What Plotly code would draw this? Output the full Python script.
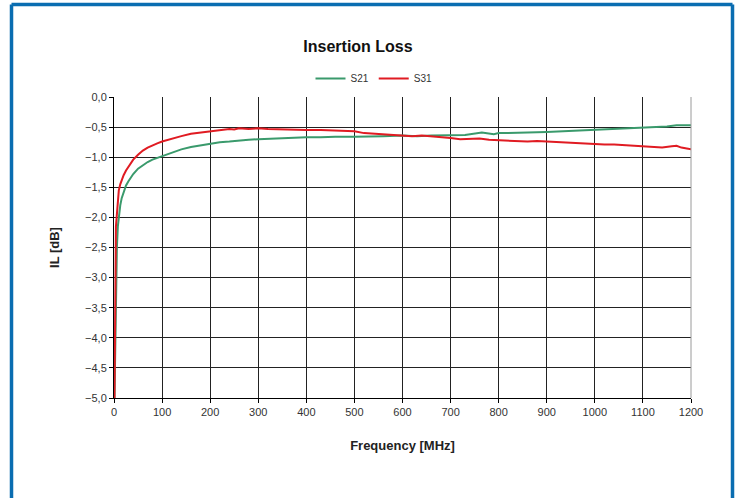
import plotly.graph_objects as go

# Frequency points (MHz) and insertion loss (dB)
freq_s21 = [1, 2, 4, 6, 8, 10, 13, 16, 20, 25, 30, 40, 50, 60, 70, 80, 90, 100, 120, 140, 160, 180,
            200, 220, 240, 260, 280, 300, 330, 360, 400, 430, 460, 500, 530, 560, 600, 630, 660,
            700, 730, 765, 790, 800, 830, 860, 900, 930, 960, 1000, 1030, 1060, 1100, 1130, 1150,
            1170, 1200]
s21 = [-5.0, -4.5, -3.0, -2.5, -2.15, -2.0, -1.8, -1.68, -1.57, -1.47, -1.40, -1.28, -1.19, -1.13,
       -1.08, -1.04, -1.01, -0.98, -0.92, -0.87, -0.83, -0.80, -0.77, -0.75, -0.74, -0.72, -0.71,
       -0.70, -0.69, -0.69, -0.67, -0.67, -0.66, -0.66, -0.66, -0.65, -0.64, -0.65, -0.64, -0.64,
       -0.63, -0.59, -0.62, -0.60, -0.60, -0.59, -0.58, -0.57, -0.56, -0.54, -0.53, -0.52, -0.51,
       -0.50, -0.49, -0.47, -0.47]

freq_s31 = [1, 2, 3, 4, 6, 8, 10, 13, 16, 20, 25, 30, 40, 50, 60, 70, 80, 90, 100, 120, 140, 160,
            180, 200, 220, 240, 250, 260, 280, 300, 320, 350, 380, 400, 430, 460, 500, 520, 540,
            560, 580, 600, 620, 640, 660, 680, 700, 720, 740, 760, 780, 800, 820, 840, 860, 880,
            900, 920, 940, 960, 980, 1000, 1020, 1040, 1060, 1080, 1100, 1120, 1140, 1160, 1170,
            1180, 1200]
s31 = [-5.0, -4.2, -2.5, -2.15, -1.95, -1.72, -1.55, -1.45, -1.38, -1.30, -1.22, -1.16, -1.04,
       -0.96, -0.89, -0.84, -0.80, -0.77, -0.74, -0.69, -0.65, -0.61, -0.59, -0.57, -0.55, -0.53,
       -0.54, -0.52, -0.53, -0.52, -0.53, -0.54, -0.54, -0.55, -0.55, -0.56, -0.57, -0.60, -0.61,
       -0.61, -0.62, -0.64, -0.65, -0.64, -0.65, -0.66, -0.68, -0.70, -0.70, -0.69, -0.71, -0.72,
       -0.73, -0.73, -0.74, -0.73, -0.74, -0.74, -0.75, -0.76, -0.77, -0.79, -0.79, -0.79, -0.80,
       -0.80, -0.81, -0.82, -0.84, -0.82, -0.81, -0.84, -0.87]

x_ticks = list(range(0, 1201, 100))
y_ticks = [0.0, -0.5, -1.0, -1.5, -2.0, -2.5, -3.0, -3.5, -4.0, -4.5, -5.0]

FONT = "Liberation Sans, Arial, sans-serif"

fig = go.Figure()
fig.add_trace(go.Scatter(x=freq_s21, y=s21, mode="lines", name="S21",
                         line=dict(color="#3a9a6c", width=2)))
fig.add_trace(go.Scatter(x=freq_s31, y=s31, mode="lines", name="S31",
                         line=dict(color="#e01b22", width=2)))

# plot area: left 114, right 691, top 97, bottom 398 (px)
L, R, T, B = 114, 691, 97, 398
W, H = 740, 498
pw, ph = R - L, B - T

def px(xp):
    return (xp - L) / pw

def py(yp):
    return (B - yp) / ph

shapes = [
    # right border of plot (gray)
    dict(type="line", xref="paper", yref="paper", x0=1, x1=1, y0=0, y1=1,
         line=dict(color="#9a9a9a", width=1)),
    # blue outer frame
    dict(type="line", xref="paper", yref="paper", x0=px(11.5), x1=px(11.5), y0=py(4.5), y1=py(520),
         line=dict(color="#0a6db1", width=3.5)),
    dict(type="line", xref="paper", yref="paper", x0=px(11.5), x1=px(732.5), y0=py(4.5), y1=py(4.5),
         line=dict(color="#0a6db1", width=3.5)),
    dict(type="line", xref="paper", yref="paper", x0=px(732.5), x1=px(732.5), y0=py(4.5), y1=py(520),
         line=dict(color="#0a6db1", width=3.5)),
]

fig.update_layout(
    width=W, height=H,
    margin=dict(l=L, r=W - R, t=T, b=H - B),
    paper_bgcolor="white", plot_bgcolor="white",
    separators=",.",
    font=dict(family=FONT, size=11, color="#333333"),
    title=dict(text="<b>Insertion Loss</b>", x=358 / W, xref="container", xanchor="center",
               y=1 - 46 / H, yref="container", yanchor="middle",
               font=dict(family=FONT, size=16, color="#111111")),
    legend=dict(orientation="h", x=px(374), xanchor="center", y=py(78.5), yanchor="middle",
                font=dict(family=FONT, size=10, color="#333333"), bgcolor="rgba(0,0,0,0)",
                itemwidth=30, tracegroupgap=0),
    showlegend=True,
    shapes=shapes,
)

fig.update_xaxes(
    range=[0, 1200], tickvals=x_ticks, ticktext=[str(v) for v in x_ticks],
    showgrid=True, gridcolor="#222222", gridwidth=1,
    showline=True, linecolor="#000000", linewidth=1,
    ticks="outside", ticklen=4, tickcolor="#000000",
    zeroline=False,
    tickfont=dict(family=FONT, size=11, color="#333333"),
    title=dict(text="<b>Frequency [MHz]</b>", standoff=23,
               font=dict(family=FONT, size=13, color="#222222")),
)
fig.update_yaxes(
    range=[-5.0, 0.0], tickvals=y_ticks, tickformat=".1f",
    showgrid=True, gridcolor="#222222", gridwidth=1,
    showline=True, linecolor="#000000", linewidth=1,
    ticks="outside", ticklen=4, tickcolor="#000000",
    zeroline=False,
    tickfont=dict(family=FONT, size=11, color="#333333"),
    title=dict(text="<b>IL [dB]</b>", standoff=22,
               font=dict(family=FONT, size=13, color="#222222")),
)

fig.write_html("out.html", config={"displayModeBar": False},
               post_script="document.body.style.margin='0';document.body.style.padding='0';")
